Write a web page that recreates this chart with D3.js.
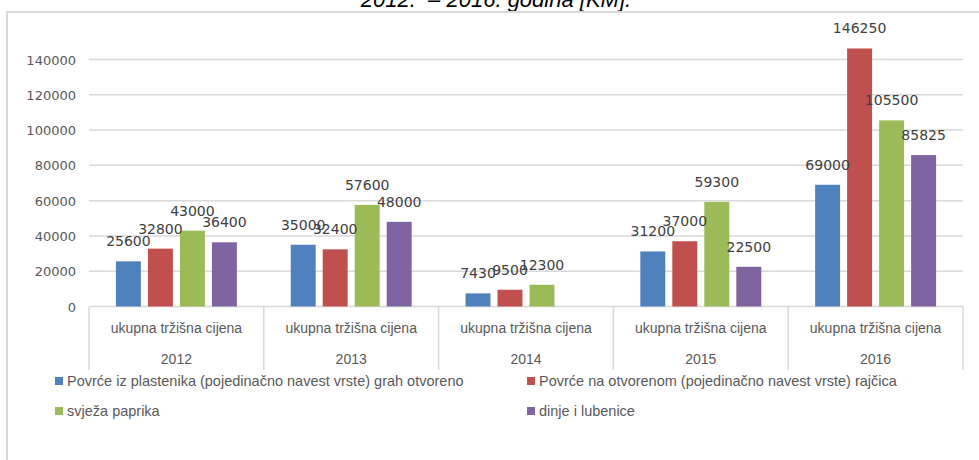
<!DOCTYPE html>
<html>
<head>
<meta charset="utf-8">
<script src="https://cdn.jsdelivr.net/npm/d3@7"></script>
<style>
  body { margin: 0; background: #fff; }
  svg { display: block; }
</style>
</head>
<body>
<div id="chart"></div>
<script>
const years = ["2012", "2013", "2014", "2015", "2016"];
const categoryLabel = "ukupna tržišna cijena";
const seriesNames = [
  "Povrće iz plastenika (pojedinačno navest vrste) grah otvoreno",
  "Povrće na otvorenom (pojedinačno navest vrste) rajčica",
  "svježa paprika",
  "dinje i lubenice"
];
const seriesColors = ["#4F81BD", "#C0504D", "#9BBB59", "#8064A2"];
const grah = [25600, 35000, 7430, 31200, 69000];
const rajcica = [32800, 32400, 9500, 37000, 146250];
const paprika = [43000, 57600, 12300, 59300, 105500];
const dinje = [36400, 48000, null, 22500, 85825];
const yTicks = [0, 20000, 40000, 60000, 80000, 100000, 120000, 140000];

const seriesValues = [grah, rajcica, paprika, dinje];

const width = 979, height = 460;

const svg = d3.select("#chart").append("svg")
  .attr("width", width).attr("height", height);

// title, cut at the top
svg.append("text")
  .attr("x", 496).attr("y", 7)
  .attr("text-anchor", "middle")
  .attr("font-family", "Liberation Sans, sans-serif")
  .attr("font-style", "italic")
  .attr("font-size", 22)
  .attr("fill", "#000")
  .attr("xml:space", "preserve")
  .text("2012.  – 2016. godina [KM].");

// chart border
svg.append("rect")
  .attr("x", 7).attr("y", 12).attr("width", 990).attr("height", 470)
  .attr("fill", "none").attr("stroke", "#d9d9d9").attr("stroke-width", 2);

const x = d3.scaleBand().domain(years).range([89, 963]);
const xInner = d3.scaleBand().domain(d3.range(4))
  .range([0, 128]).paddingInner(0.22).paddingOuter(0.11);
const y = d3.scaleLinear().domain([0, 140000]).range([306.5, 59.5]);

// gridlines
svg.append("g").selectAll("line").data(yTicks).join("line")
  .attr("x1", 89).attr("x2", 963)
  .attr("y1", d => y(d)).attr("y2", d => y(d))
  .attr("stroke", "#d9d9d9").attr("stroke-width", 1.5);

// y axis labels
svg.append("g").selectAll("text").data(yTicks).join("text")
  .attr("x", 76).attr("y", d => y(d) + 5)
  .attr("text-anchor", "end")
  .attr("font-family", "DejaVu Sans, sans-serif")
  .attr("font-size", 13)
  .attr("fill", "#595959")
  .text(d => d);

// category axis dividers
const dividers = years.map(d => x(d)).concat([963]);
svg.append("g").selectAll("line").data(dividers).join("line")
  .attr("x1", d => d).attr("x2", d => d)
  .attr("y1", 306.5).attr("y2", 370)
  .attr("stroke", "#d9d9d9").attr("stroke-width", 1.5);

const groupOffset = (x.bandwidth() - 128) / 2;

svg.append("g").selectAll("text").data(years).join("text")
  .attr("x", d => x(d) + x.bandwidth() / 2).attr("y", 333)
  .attr("text-anchor", "middle")
  .attr("font-family", "Liberation Sans, sans-serif")
  .attr("font-size", 14)
  .attr("fill", "#595959")
  .text(categoryLabel);

svg.append("g").selectAll("text").data(years).join("text")
  .attr("x", d => x(d) + x.bandwidth() / 2).attr("y", 364)
  .attr("text-anchor", "middle")
  .attr("font-family", "Liberation Sans, sans-serif")
  .attr("font-size", 14)
  .attr("fill", "#595959")
  .text(d => d);

// bars
const bars = [];
seriesValues.forEach((vals, s) => {
  vals.forEach((v, i) => {
    if (v !== null) bars.push({year: years[i], s: s, value: v});
  });
});

svg.append("g").selectAll("rect").data(bars).join("rect")
  .attr("x", d => x(d.year) + groupOffset + xInner(d.s))
  .attr("y", d => y(d.value))
  .attr("width", xInner.bandwidth())
  .attr("height", d => y(0) - y(d.value))
  .attr("fill", d => seriesColors[d.s]);

svg.append("g").selectAll("text").data(bars).join("text")
  .attr("x", d => x(d.year) + groupOffset + xInner(d.s) + xInner.bandwidth() / 2)
  .attr("y", d => y(d.value) - 15)
  .attr("text-anchor", "middle")
  .attr("font-family", "DejaVu Sans, sans-serif")
  .attr("font-size", 14)
  .attr("fill", "#404040")
  .text(d => d.value);

// legend
const legendPos = [[55, 382], [527, 382], [55, 412], [527, 412]];
const legend = svg.append("g").selectAll("g").data(seriesNames).join("g")
  .attr("transform", (d, i) => `translate(${legendPos[i][0]},${legendPos[i][1]})`);
legend.append("rect")
  .attr("x", 0).attr("y", -5).attr("width", 8).attr("height", 8)
  .attr("fill", (d, i) => seriesColors[i]);
legend.append("text")
  .attr("x", 12).attr("y", 4)
  .attr("font-family", "Liberation Sans, sans-serif")
  .attr("font-size", 14.5)
  .attr("fill", "#595959")
  .text(d => d);
</script>
</body>
</html>
